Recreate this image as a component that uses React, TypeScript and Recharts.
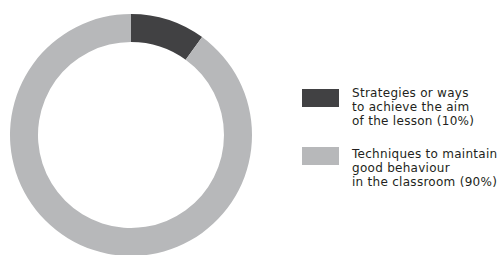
import React from "react";
import { PieChart, Pie, Cell } from "recharts";

const categories = [
  "Strategies or ways to achieve the aim of the lesson (10%)",
  "Techniques to maintain good behaviour in the classroom (90%)",
];
const legendLines = [
  ["Strategies or ways", "to achieve the aim", "of the lesson (10%)"],
  ["Techniques to maintain", "good behaviour", "in the classroom (90%)"],
];
const values = [10, 90];
const colors = ["#414143", "#b7b8ba"];

const data = categories.map((name, i) => ({ name, value: values[i] }));

const legendPos = [
  { box: 89, text: 86 },
  { box: 147, text: 147 },
];

export default function App() {
  return (
    <div style={{ position: "absolute", left: 0, top: 0, width: 503, height: 255, overflow: "hidden", background: "#fff" }}>
      <PieChart width={503} height={255} margin={{ top: 0, right: 0, bottom: 0, left: 0 }}>
        <Pie
          data={data}
          dataKey="value"
          nameKey="name"
          cx={131}
          cy={135}
          innerRadius={93}
          outerRadius={121}
          startAngle={90}
          endAngle={-270}
          stroke="none"
          isAnimationActive={false}
        >
          {data.map((d, i) => (
            <Cell key={d.name} fill={colors[i]} />
          ))}
        </Pie>
      </PieChart>
      {legendLines.map((lines, i) => (
        <React.Fragment key={i}>
          <div
            style={{
              position: "absolute",
              left: 302,
              top: legendPos[i].box,
              width: 37,
              height: 18,
              background: colors[i],
            }}
          />
          <div
            style={{
              position: "absolute",
              left: 352,
              top: legendPos[i].text,
              fontFamily: "'DejaVu Sans', sans-serif",
              fontSize: 12,
              letterSpacing: 0.28,
              lineHeight: "14px",
              color: "#231f20",
              whiteSpace: "nowrap",
            }}
          >
            {lines.map((l, j) => (
              <div key={j}>{l}</div>
            ))}
          </div>
        </React.Fragment>
      ))}
    </div>
  );
}
